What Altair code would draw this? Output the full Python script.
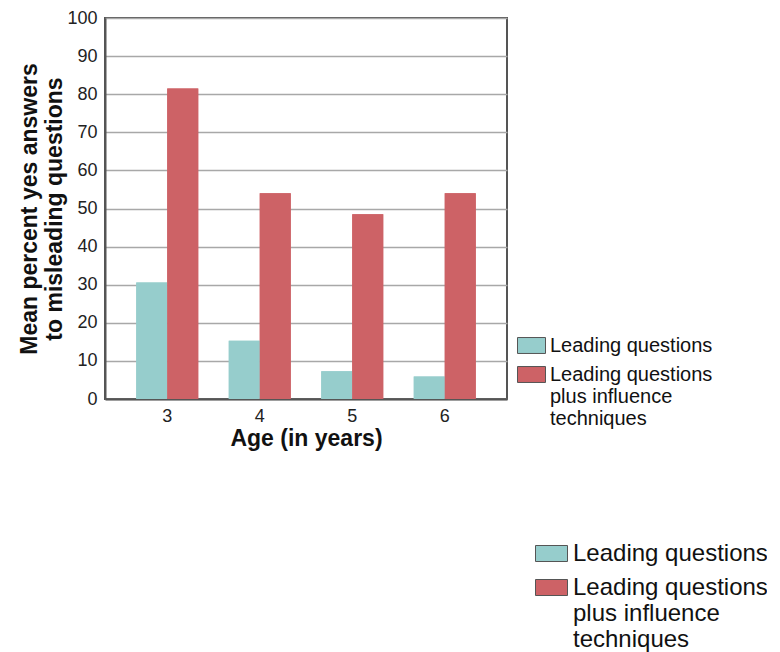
import altair as alt
import pandas as pd

ages = ["3", "4", "5", "6"]
series_names = ["Leading questions", "Leading questions plus influence techniques"]
leading = [30.6, 15.3, 7.3, 5.9]
influence = [81.5, 54.0, 48.5, 54.0]
y_ticks = [0, 10, 20, 30, 40, 50, 60, 70, 80, 90, 100]
colors = ["#96cdcc", "#cd6266"]

rows = []
for a, v in zip(ages, leading):
    rows.append({"age": a, "series": series_names[0], "series2": series_names[0], "value": v})
for a, v in zip(ages, influence):
    rows.append({"age": a, "series": series_names[1], "series2": series_names[1], "value": v})
df = pd.DataFrame(rows)

label_expr = ("datum.label == 'Leading questions' ? datum.label : "
              "['Leading questions', 'plus influence', 'techniques']")

x_enc = alt.X("age:N", sort=ages,
              scale=alt.Scale(paddingInner=0.33, paddingOuter=0.338),
              axis=alt.Axis(title="Age (in years)", labelAngle=0, labelFontSize=18,
                            labelColor="#222", ticks=False, labelPadding=8,
                            titleFontSize=23, titleFontWeight="bold", titleColor="#111",
                            titlePadding=2, domainColor="#555", domainWidth=2))
y_enc = alt.Y("value:Q", scale=alt.Scale(domain=[0, 100], nice=False),
              axis=alt.Axis(values=y_ticks, title=["Mean percent yes answers", "to misleading questions"],
                            labelFontSize=18, labelColor="#222", ticks=False, labelPadding=8,
                            titleFontSize=23, titleFontWeight="bold", titleColor="#111",
                            titlePadding=0, titleLineHeight=25,
                            gridColor="#a8a8a8", gridWidth=1.5,
                            domainColor="#555", domainWidth=2))

bars1 = alt.Chart(df).mark_bar().encode(
    x=x_enc, y=y_enc,
    xOffset=alt.XOffset("series:N", sort=series_names),
    color=alt.Color("series:N", sort=series_names,
                    scale=alt.Scale(domain=series_names, range=colors),
                    legend=alt.Legend(title=None, orient="none", legendX=412, legendY=313,
                                      labelFontSize=20, labelColor="#111", labelExpr=label_expr,
                                      symbolType="M-1,-0.57H1V0.57H-1Z", symbolSize=784,
                                      symbolStrokeColor="#555", symbolStrokeWidth=1,
                                      symbolOpacity=1, labelOffset=4, rowPadding=4,
                                      labelLimit=400)),
)

bars2 = alt.Chart(df).mark_bar().encode(
    x=x_enc, y=y_enc,
    xOffset=alt.XOffset("series:N", sort=series_names),
    color=alt.Color("series2:N", sort=series_names,
                    scale=alt.Scale(domain=series_names, range=colors),
                    legend=alt.Legend(title=None, orient="none", legendX=430, legendY=519,
                                      labelFontSize=24, labelColor="#111", labelExpr=label_expr,
                                      symbolType="M-1,-0.5H1V0.5H-1Z", symbolSize=1024,
                                      symbolStrokeColor="#555", symbolStrokeWidth=1,
                                      symbolOpacity=1, labelOffset=5, rowPadding=5,
                                      labelLimit=400)),
)

chart = alt.layer(bars1, bars2).resolve_scale(color="independent").properties(
    width=402, height=381,
    autosize=alt.AutoSizeParams(type="none"),
    padding={"left": 97, "top": 10, "right": 260, "bottom": 262},
).configure(font="Liberation Sans").configure_view(stroke="#555", strokeWidth=2)

chart.save("out.html", embed_options={"renderer": "svg", "actions": False})
